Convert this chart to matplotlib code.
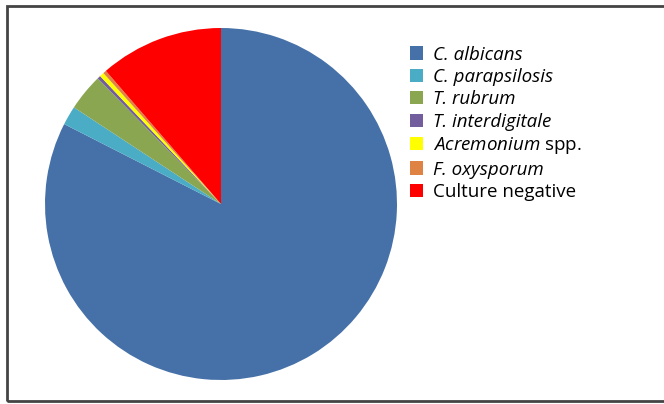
import matplotlib
matplotlib.use('Agg')
import matplotlib.pyplot as plt
from matplotlib.patches import Rectangle

plt.rcParams['font.family'] = ['Open Sans', 'DejaVu Sans']
plt.rcParams['mathtext.fontset'] = 'custom'
plt.rcParams['mathtext.rm'] = 'Open Sans'
plt.rcParams['mathtext.it'] = 'Open Sans:italic'

# valores (porcentaje aproximado)
etiquetas = ['C. albicans', 'C. parapsilosis', 'T. rubrum', 'T. interdigitale',
             r'$\it{Acremonium}$ spp.', 'F. oxysporum', 'Culture negative']
cursiva = [True, True, True, True, False, True, False]
valores = [82.5, 1.75, 3.4, 0.3, 0.4, 0.3, 11.35]
colores = ['#4571A8', '#4BACC6', '#8AA650', '#725E9C', '#FFFF00', '#DE8344', '#FF0000']

fig = plt.figure(figsize=(6.64, 4.04), dpi=100)
ax = fig.add_axes([45/664, 24/404, 352/664, 352/404])
wedges, _ = ax.pie(valores, colors=colores, startangle=90, counterclock=False,
                   wedgeprops={'linewidth': 0})
ax.set_xlim(-1, 1)
ax.set_ylim(-1, 1)
ax.set_aspect('equal')

leg = fig.legend(wedges, etiquetas, loc='upper left', bbox_to_anchor=(410/664, 1 - 45.5/404),
                 frameon=False, fontsize=13.5, handlelength=0.7, handleheight=0.7,
                 handletextpad=0.55, labelspacing=0.235, borderpad=0, borderaxespad=0)
for t, c in zip(leg.get_texts(), cursiva):
    if c:
        t.set_fontstyle('italic')

# marco exterior (sin borde derecho visible)
fig.patches.append(Rectangle((6.5/664, 3/404), 700/664, 395/404, transform=fig.transFigure,
                             fill=False, edgecolor='#444444', linewidth=2))

fig.savefig('out.png', dpi=100)
